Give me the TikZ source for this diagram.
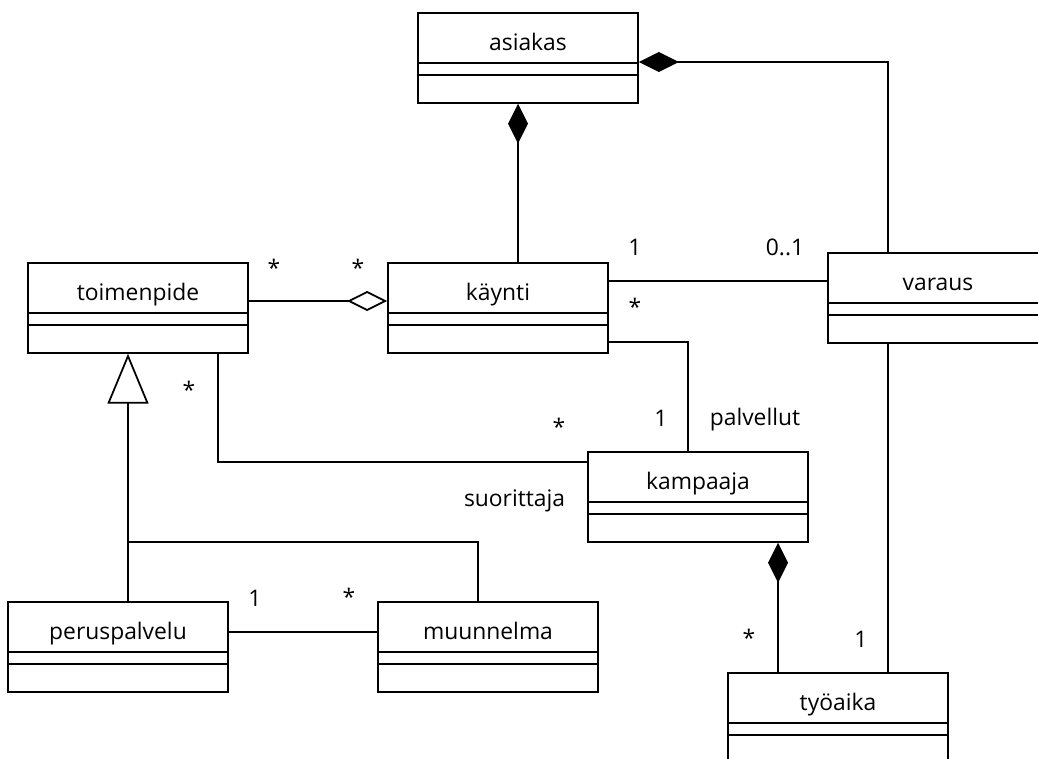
\documentclass[tikz,border=0pt]{standalone}
\usepackage{fontspec}
\setmainfont{Open Sans}
\usetikzlibrary{arrows.meta, calc}
\newcommand{\umlfont}{\fontsize{13}{15}\selectfont}
\tikzset{umlclass/.style={draw, minimum width=4.4cm, minimum height=1.8cm, inner sep=0pt,
                          text height=0.76cm, text depth=1.04cm, anchor=north,
                          path picture={\draw ([yshift=-1cm]path picture bounding box.north west)--([yshift=-1cm]path picture bounding box.north east);
                                        \draw ([yshift=-1.24cm]path picture bounding box.north west)--([yshift=-1.24cm]path picture bounding box.north east);}},
         mult/.style={anchor=base, inner sep=0pt},
         comp/.style={-{Diamond[length=0.8cm,width=0.4cm]}},
         agg/.style={-{Diamond[open,length=0.8cm,width=0.4cm]}},
         gen/.style={-{Triangle[open,length=1cm,width=0.82cm]}}}

\begin{document}
\begin{tikzpicture}[x=0.02cm, y=-0.02cm, line width=1pt, font=\umlfont]
        \useasboundingbox (0,0) rectangle (1038,758);
        \node[umlclass](asiakas)at(528,12){asiakas};
        \node[umlclass](toimenpide)at(138,262){toimenpide};
        \node[umlclass](kaynti)at(498,262){käynti};
        \node[umlclass](varaus)at(938,252){varaus};
        \node[umlclass](kampaaja)at(698,451){kampaaja};
        \node[umlclass](peruspalvelu)at(118,601){peruspalvelu};
        \node[umlclass](muunnelma)at(488,601){muunnelma};
        \node[umlclass](tyoaika)at(838,672){työaika};

        \draw[comp]($(kaynti.north)+(20,0)$) coordinate (k1)--(k1 |- asiakas.south);
        \draw[{Diamond[length=0.8cm,width=0.4cm]}-]($(asiakas.north east)+(0,50)$) -| ($(varaus.north)+(-50,0)$);
        \draw[agg]($(toimenpide.north east)+(0,39)$)--($(kaynti.north west)+(0,39)$);
        \draw($(kaynti.north east)+(0,19)$) coordinate (kv)--(kv -| varaus.west);
        \draw($(kaynti.north east)+(0,80)$) -| ($(kampaaja.north)+(-10,0)$);
        \draw($(toimenpide.south)+(80,0)$) |- ($(kampaaja.north west)+(0,11)$);
        \draw[gen]($(peruspalvelu.north)+(10,0)$) coordinate (g1)--(g1 |- toimenpide.south);
        \draw($(muunnelma.north)+(-10,0)$) |- ($(g1)+(0,-59)$);
        \draw($(peruspalvelu.north east)+(0,31)$) coordinate (pm)--(pm -| muunnelma.west);
        \draw[comp]($(tyoaika.north)+(-60,0)$) coordinate (t1)--(t1 |- kampaaja.south);
        \draw($(varaus.south)+(-50,0)$) coordinate (v2)--(v2 |- tyoaika.north);

        \node[mult](m1)at(274,276){*};
        \node[mult](m2)at(358,276){*};
        \node[mult](m3)at(635,255){1};
        \node[mult](m4)at(785,255){0..1};
        \node[mult](m5)at(635,315){*};
        \node[mult](m6)at(189,398){*};
        \node[mult](m7)at(559,435){*};
        \node[mult](m8)at(661,426){1};
        \node[mult](m9)at(755,425){palvellut};
        \node[mult, anchor=base east](m10)at(566,506){suorittaja};
        \node[mult](m11)at(255,606){1};
        \node[mult](m12)at(349,605){*};
        \node[mult](m13)at(749,646){*};
        \node[mult](m14)at(861,647){1};
    \end{tikzpicture}
\end{document}
